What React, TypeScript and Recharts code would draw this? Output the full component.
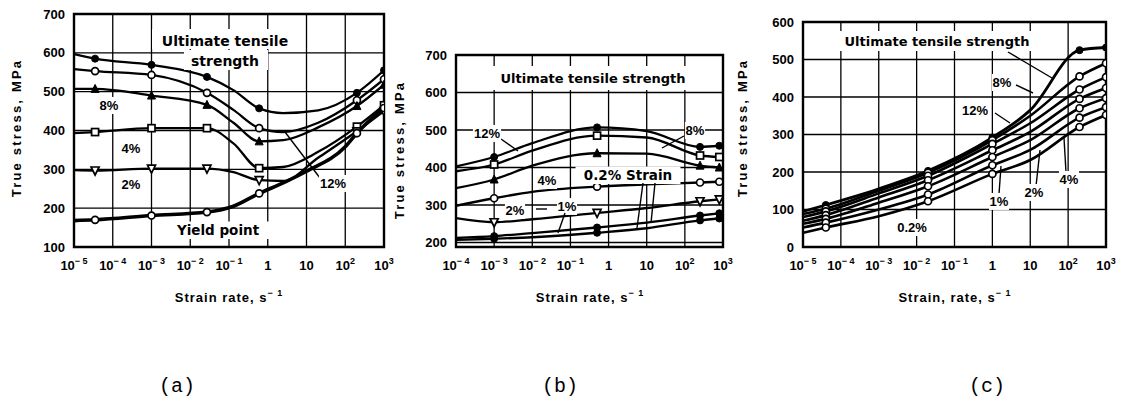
import React from 'react';
import { LineChart, Line, XAxis, YAxis, CartesianGrid, ReferenceArea } from 'recharts';

const FONT = '"Liberation Sans", Arial, Helvetica, sans-serif';
const WIDE = '"DejaVu Sans", Verdana, sans-serif';
const MONO = '"Liberation Mono", "DejaVu Sans Mono", monospace';

// ---- (a) strain rate 1e-5 .. 1e3, yield point + flow stress at strain
const rateTicksA = [1e-5, 1e-4, 1e-3, 1e-2, 1e-1, 1, 10, 100, 1000];
const stressTicksA = [100, 200, 300, 400, 500, 600, 700];
const testedA = [3.5e-5, 1e-3, 2.7e-2, 0.6, 200, 1000];

const utsA = [[1e-5, 597], [3.5e-5, 585], [1e-3, 569], [2.7e-2, 538], [0.13, 504], [0.6, 457], [2.5, 445], [20, 452], [200, 497], [1000, 555]];
const strain12A = [[1e-5, 558], [3.5e-5, 553], [1e-3, 543], [2.7e-2, 497], [0.13, 453], [0.6, 406], [2.5, 396], [20, 420], [200, 478], [1000, 532]];
const strain8A = [[1e-5, 507], [3.5e-5, 507], [1e-3, 490], [2.7e-2, 466], [0.13, 420], [0.6, 372], [2.5, 375], [20, 408], [200, 463], [1000, 518]];
const strain4A = [[1e-5, 393], [3.5e-5, 396], [1e-3, 406], [2.7e-2, 406], [0.13, 367], [0.6, 303], [2.5, 306], [20, 345], [200, 410], [1000, 465]];
const strain2A = [[1e-5, 298], [3.5e-5, 297], [1e-3, 302], [2.7e-2, 302], [0.13, 293], [0.6, 272], [2.5, 270], [20, 330], [200, 398], [1000, 450]];
const yieldA = [[1e-5, 168], [3.5e-5, 170], [1e-3, 181], [2.7e-2, 190], [0.13, 205], [0.6, 238], [2.5, 265], [10, 295], [100, 358], [200, 393], [1000, 458]];

// ---- (b) strain rate 1e-4 .. 1e3
const rateTicksB = [1e-4, 1e-3, 1e-2, 1e-1, 1, 10, 100, 1000];
const stressTicksB = [200, 300, 400, 500, 600, 700];
const testedB = [1e-3, 0.5, 250, 800];

const strain12B = [[1e-4, 403], [1e-3, 428], [1e-2, 465], [0.5, 507], [10, 497], [250, 455], [800, 458]];
const strain8B = [[1e-4, 390], [1e-3, 408], [1e-2, 445], [0.5, 485], [10, 480], [250, 432], [800, 428]];
const strain6B = [[1e-4, 345], [1e-3, 368], [1e-2, 405], [0.5, 438], [10, 437], [250, 405], [800, 400]];
const strain4B = [[1e-4, 298], [1e-3, 318], [1e-2, 335], [0.5, 349], [10, 355], [250, 360], [800, 362]];
const strain2B = [[1e-4, 265], [1e-3, 254], [1e-2, 262], [0.5, 279], [10, 292], [250, 310], [800, 315]];
const strain1B = [[1e-4, 212], [1e-3, 217], [1e-2, 225], [0.5, 240], [10, 253], [250, 272], [800, 278]];
const strain02B = [[1e-4, 207], [1e-3, 210], [1e-2, 214], [0.5, 226], [10, 238], [250, 259], [800, 264]];

// ---- (c) strain rate 1e-5 .. 1e3
const rateTicksC = [1e-5, 1e-4, 1e-3, 1e-2, 1e-1, 1, 10, 100, 1000];
const stressTicksC = [0, 100, 200, 300, 400, 500, 600];
const testedC = [4e-5, 2e-2, 1, 200, 1000];

const utsC = [[1e-5, 95], [4e-5, 112], [1e-3, 155], [2e-2, 203], [1, 292], [10, 365], [200, 525], [1000, 532]];
const strain12C = [[1e-5, 88], [4e-5, 102], [1e-3, 150], [2e-2, 198], [1, 285], [10, 350], [200, 455], [1000, 490]];
const strain8C = [[1e-5, 80], [4e-5, 95], [1e-3, 143], [2e-2, 190], [1, 275], [10, 330], [200, 420], [1000, 453]];
const strain4C = [[1e-5, 70], [4e-5, 85], [1e-3, 132], [2e-2, 178], [1, 258], [10, 307], [200, 395], [1000, 424]];
const strain2C = [[1e-5, 62], [4e-5, 75], [1e-3, 118], [2e-2, 162], [1, 240], [10, 285], [200, 370], [1000, 397]];
const strain1C = [[1e-5, 52], [4e-5, 65], [1e-3, 100], [2e-2, 140], [1, 218], [10, 259], [200, 345], [1000, 373]];
const strain02C = [[1e-5, 38], [4e-5, 52], [1e-3, 82], [2e-2, 122], [1, 195], [10, 232], [200, 320], [1000, 352]];

const toData = (pts: number[][]) => pts.map(([x, y]) => ({ x, y }));

const DecadeTick = (props: any) => {
  const { x, y, payload } = props;
  const e = Math.round(Math.log10(payload.value));
  return (
    <text x={x} y={y + 23} textAnchor="middle" fontFamily={FONT} fontWeight={700} fontSize={13} fill="#000">
      {e === 0 ? '1' : e === 1 ? '10' : (
        <>
          10<tspan dy={-6} fontSize={9}>{e < 0 ? `\u2212 ${-e}` : `${e}`}</tspan>
        </>
      )}
    </text>
  );
};

const markerDot = (shape: string, tested: number[]) => (p: any) => {
  const { cx, cy, payload, index } = p;
  const key = `d${index}`;
  const hit = payload && tested.some((r) => Math.abs(Math.log10(r) - Math.log10(payload.x)) < 0.01);
  if (cx == null || cy == null || !hit) return <g key={key} />;
  const r = 3.5;
  const open = { fill: '#fff', stroke: '#000', strokeWidth: 1.7 };
  const solid = { fill: '#000', stroke: '#000', strokeWidth: 1 };
  switch (shape) {
    case 'disc':
      return <circle key={key} cx={cx} cy={cy} r={r} {...solid} />;
    case 'ring':
      return <circle key={key} cx={cx} cy={cy} r={r} {...open} />;
    case 'sq':
      return <rect key={key} x={cx - r} y={cy - r} width={2 * r} height={2 * r} {...open} />;
    case 'tri':
      return <polygon key={key} points={`${cx},${cy - r - 1} ${cx - r - 0.5},${cy + r} ${cx + r + 0.5},${cy + r}`} {...open} />;
    case 'ftri':
      return <polygon key={key} points={`${cx},${cy - r - 1} ${cx - r - 0.5},${cy + r} ${cx + r + 0.5},${cy + r}`} {...solid} />;
    case 'vtri':
      return <polygon key={key} points={`${cx},${cy + r + 1} ${cx - r - 0.5},${cy - r} ${cx + r + 0.5},${cy - r}`} {...open} />;
    default:
      return <g key={key} />;
  }
};

interface Curve {
  pts: number[][];
  mark: string;
  width?: number;
}

interface PanelProps {
  left: number;
  width: number;
  plotLeft: number;
  plotRight: number;
  plotTop: number;
  xTicks: number[];
  yTicks: number[];
  yDomain: [number, number];
  tested: number[];
  curves: Curve[];
}

const Panel: React.FC<PanelProps> = ({ left, width, plotLeft, plotRight, plotTop, xTicks, yTicks, yDomain, tested, curves }) => {
  const xDomain: [number, number] = [xTicks[0], xTicks[xTicks.length - 1]];
  return (
    <div style={{ position: 'absolute', left, top: 0 }}>
      <LineChart
        width={width}
        height={300}
        margin={{ top: plotTop, left: plotLeft - left - 40, right: left + width - plotRight, bottom: 23 }}
      >
        <CartesianGrid stroke="#000" strokeWidth={1.3} />
        <XAxis
          dataKey="x"
          type="number"
          scale="log"
          domain={xDomain}
          ticks={xTicks}
          interval={0}
          allowDataOverflow
          height={30}
          axisLine={false}
          tickLine={false}
          tickSize={0}
          tickMargin={0}
          tick={(p: any) => <DecadeTick {...p} />}
        />
        <YAxis
          type="number"
          domain={yDomain}
          ticks={yTicks}
          interval={0}
          allowDataOverflow
          width={40}
          axisLine={false}
          tickLine={false}
          tickSize={0}
          tickMargin={9}
          tick={{ fill: '#000', fontSize: 13, fontWeight: 700, fontFamily: FONT }}
        />
        <ReferenceArea x1={xDomain[0]} x2={xDomain[1]} y1={yDomain[0]} y2={yDomain[1]} fill="none" stroke="#000" strokeWidth={2.4} />
        {curves.map((c, i) => (
          <Line
            key={i}
            data={toData(c.pts)}
            dataKey="y"
            type="monotone"
            stroke="#000"
            strokeWidth={c.width ?? 2.3}
            dot={markerDot(c.mark, tested)}
            activeDot={false}
            isAnimationActive={false}
          />
        ))}
      </LineChart>
    </div>
  );
};

const Tag = ({ x, y, text, size = 13, box = true, pad = 2, wide = false }: { x: number; y: number; text: string; size?: number; box?: boolean; pad?: number; wide?: boolean }) => {
  const w = text.length * size * (wide ? 0.68 : 0.62) + pad * 2;
  return (
    <g>
      {box && <rect x={x - w / 2} y={y - size * 0.85 - pad} width={w} height={size + pad * 2} fill="#fff" />}
      <text x={x} y={y} textAnchor="middle" fontFamily={wide ? WIDE : FONT} fontWeight={700} fontSize={size} fill="#000">
        {text}
      </text>
    </g>
  );
};

const Leader = ({ x1, y1, x2, y2 }: { x1: number; y1: number; x2: number; y2: number }) => (
  <line x1={x1} y1={y1} x2={x2} y2={y2} stroke="#000" strokeWidth={1.4} />
);

const XTitle = ({ x, text }: { x: number; text: string }) => (
  <text x={x} y={302} textAnchor="middle" fontFamily={FONT} fontWeight={700} fontSize={13} letterSpacing={1} fill="#000">
    {text}
    <tspan dy={-6} fontSize={9}>{'\u2212 1'}</tspan>
  </text>
);

const YTitle = ({ x, y }: { x: number; y: number }) => (
  <text x={x} y={y} transform={`rotate(-90 ${x} ${y})`} textAnchor="middle" fontFamily={FONT} fontWeight={700} fontSize={13} letterSpacing={2.2} fill="#000">
    True stress, MPa
  </text>
);

const App: React.FC = () => {
  return (
    <div style={{ position: 'absolute', left: 0, top: 0, width: 1125, height: 416, background: '#fff' }}>
      <Panel
        left={0}
        width={400}
        plotLeft={74}
        plotRight={384}
        plotTop={14}
        xTicks={rateTicksA}
        yTicks={stressTicksA}
        yDomain={[100, 700]}
        tested={testedA}
        curves={[
          { pts: utsA, mark: 'disc' },
          { pts: strain12A, mark: 'ring' },
          { pts: strain8A, mark: 'ftri' },
          { pts: strain4A, mark: 'sq' },
          { pts: strain2A, mark: 'vtri' },
          { pts: yieldA, mark: 'ring', width: 3.6 },
        ]}
      />
      <Panel
        left={380}
        width={360}
        plotLeft={456}
        plotRight={723}
        plotTop={55}
        xTicks={rateTicksB}
        yTicks={stressTicksB}
        yDomain={[188, 700]}
        tested={testedB}
        curves={[
          { pts: strain12B, mark: 'disc' },
          { pts: strain8B, mark: 'sq' },
          { pts: strain6B, mark: 'ftri' },
          { pts: strain4B, mark: 'ring' },
          { pts: strain2B, mark: 'vtri' },
          { pts: strain1B, mark: 'disc' },
          { pts: strain02B, mark: 'disc' },
        ]}
      />
      <Panel
        left={740}
        width={385}
        plotLeft={803}
        plotRight={1106}
        plotTop={22}
        xTicks={rateTicksC}
        yTicks={stressTicksC}
        yDomain={[0, 600]}
        tested={testedC}
        curves={[
          { pts: utsC, mark: 'disc', width: 2.8 },
          { pts: strain12C, mark: 'ring', width: 2.6 },
          { pts: strain8C, mark: 'ring', width: 2.6 },
          { pts: strain4C, mark: 'ring', width: 2.6 },
          { pts: strain2C, mark: 'ring', width: 2.6 },
          { pts: strain1C, mark: 'ring', width: 2.6 },
          { pts: strain02C, mark: 'ring', width: 2.6 },
        ]}
      />

      <svg width={1125} height={416} style={{ position: 'absolute', left: 0, top: 0, pointerEvents: 'none' }}>
        {/* (a) */}
        <YTitle x={21} y={128} />
        <XTitle x={229} text="Strain rate, s" />
        <rect x={152} y={29} width={146} height={20} fill="#fff" />
        <rect x={184} y={50} width={84} height={20} fill="#fff" />
        <Tag x={225} y={46} text="Ultimate tensile" size={14} box={false} wide />
        <Tag x={225} y={66} text="strength" size={14} box={false} wide />
        <Tag x={109} y={110} text="8%" />
        <Tag x={131} y={153} text="4%" />
        <Tag x={131} y={189} text="2%" />
        <Leader x1={285} y1={132} x2={320} y2={178} />
        <Tag x={333} y={188} text="12%" />
        <Tag x={218} y={235} text="Yield point" size={13.5} wide />

        {/* (b) */}
        <YTitle x={404} y={150} />
        <XTitle x={590} text="Strain rate, s" />
        <rect x={459} y={66} width={262} height={24} fill="#fff" />
        <Tag x={593} y={83} text="Ultimate tensile strength" size={13} box={false} wide />
        <Leader x1={501} y1={139} x2={518} y2={151} />
        <Tag x={487} y={138} text="12%" />
        <Leader x1={684} y1={136} x2={662} y2={148} />
        <Tag x={695} y={135} text="8%" />
        <Tag x={547} y={185} text="4%" />
        <Tag x={628} y={180} text="0.2% Strain" size={13.5} wide />
        <Leader x1={643} y1={183} x2={637} y2={228} />
        <Leader x1={655} y1={183} x2={651} y2={223} />
        <Tag x={515} y={215} text="2%" />
        <Leader x1={536} y1={209} x2={547} y2={209} />
        <Tag x={567} y={211} text="1%" />
        <Leader x1={565} y1={213} x2={558} y2={233} />

        {/* (c) */}
        <YTitle x={747} y={128} />
        <XTitle x={955} text="Strain, rate, s" />
        <rect x={826} y={31} width={224} height={20} fill="#fff" />
        <Tag x={937} y={46} text="Ultimate tensile strength" size={13} box={false} wide />
        <Leader x1={1008} y1={52} x2={1052} y2={78} />
        <Tag x={1002} y={87} text="8%" />
        <Leader x1={1016} y1={85} x2={1033} y2={93} />
        <Tag x={975} y={115} text="12%" />
        <Leader x1={995} y1={113} x2={1010} y2={123} />
        <Leader x1={999} y1={194} x2={1001} y2={166} />
        <Tag x={999} y={206} text="1%" />
        <Leader x1={1036} y1={186} x2={1040} y2={150} />
        <Tag x={1034} y={197} text="2%" />
        <Leader x1={1066} y1={172} x2={1064} y2={138} />
        <Tag x={1069} y={184} text="4%" />
        <Tag x={912} y={232} text="0.2%" />

        {/* panel letters */}
        <text x={177} y={392} textAnchor="middle" fontFamily={MONO} fontSize={20} fill="#000">(a)</text>
        <text x={560} y={392} textAnchor="middle" fontFamily={MONO} fontSize={20} fill="#000">(b)</text>
        <text x={987} y={392} textAnchor="middle" fontFamily={MONO} fontSize={20} fill="#000">(c)</text>
      </svg>
    </div>
  );
};

export default App;
